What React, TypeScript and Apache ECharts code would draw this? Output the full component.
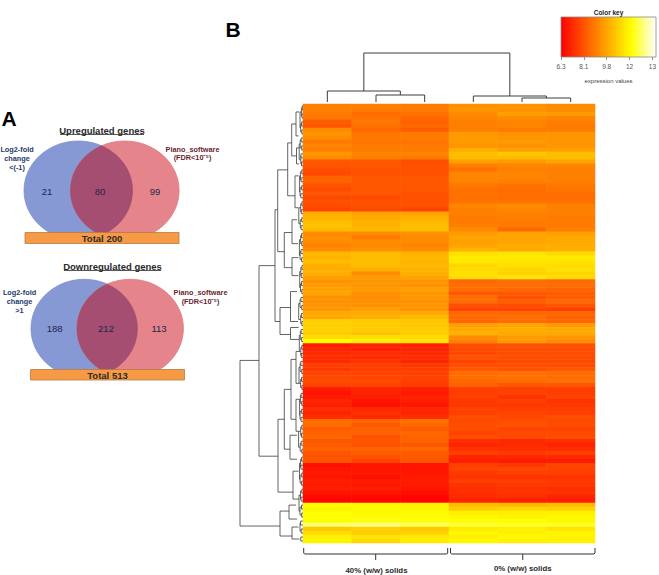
import React, { useEffect, useRef } from "react";
import * as echarts from "echarts";

const sampleColumns = ["40a", "40b", "40c", "0a", "0b", "0c"];
const heatRows = [
  [8.8,8.8,8.7,9.1,9.2,9.0],[8.8,8.7,8.7,9.2,9.1,9.0],[8.7,8.4,8.5,9.0,9.4,9.3],[8.6,8.5,8.3,8.9,9.0,8.9],
  [8.1,8.6,8.2,8.8,8.9,8.8],[8.0,8.5,8.3,8.8,8.9,8.7],[9.0,8.3,8.1,8.8,8.7,8.7],[9.2,8.6,8.7,9.3,9.1,9.2],
  [9.0,8.6,8.7,9.3,9.2,9.2],[8.7,8.6,8.6,9.3,9.3,9.2],[8.9,8.7,8.7,9.2,9.1,9.2],[8.8,8.7,8.7,9.7,9.4,9.4],
  [9.2,8.9,8.9,10.0,10.2,10.0],[9.0,8.8,8.7,10.0,10.0,10.0],[8.0,8.0,7.8,9.4,9.3,9.5],[8.0,8.0,7.9,8.8,8.9,8.9],
  [7.8,7.9,7.9,8.5,8.8,8.8],[7.7,7.9,7.9,8.9,8.9,8.8],[8.2,8.0,8.0,8.9,8.9,8.8],[8.2,8.0,8.0,8.9,8.8,8.8],
  [7.9,8.0,8.0,8.6,8.5,8.6],[7.8,8.0,8.0,8.5,8.4,8.6],[8.0,8.0,7.9,8.5,8.4,8.4],[7.7,7.7,7.9,8.5,8.4,8.4],
  [7.9,7.9,7.9,8.5,8.5,8.5],[7.8,7.9,7.9,8.9,9.0,8.8],[7.6,7.7,7.6,8.8,8.9,8.8],[9.7,9.5,9.5,8.8,8.8,8.8],
  [9.8,9.6,9.7,8.7,8.8,8.7],[10.0,9.8,9.9,8.7,8.7,8.7],[10.1,9.8,10.0,8.8,8.7,8.7],[9.9,9.9,10.0,9.0,8.3,8.8],
  [9.0,9.0,9.1,9.3,9.5,9.4],[9.1,8.7,9.0,9.5,9.5,9.6],[9.0,9.0,9.0,9.4,9.5,9.6],[8.9,9.0,8.9,9.5,9.7,9.7],
  [9.0,9.1,9.0,9.8,9.6,9.7],[9.9,10.0,9.8,10.7,10.8,10.6],[9.8,10.0,9.9,10.9,10.9,10.9],[10.0,10.0,9.8,10.9,10.8,10.8],
  [9.7,10.0,9.9,10.5,10.7,10.6],[9.7,9.7,9.8,10.6,10.5,10.7],[9.7,9.0,9.7,10.7,10.4,10.5],[9.4,9.3,9.5,10.6,10.8,10.6],
  [9.1,9.2,9.2,8.3,8.4,8.3],[9.3,9.2,9.1,8.4,8.4,8.4],[9.4,9.3,9.4,8.4,8.3,8.2],[9.5,9.1,9.2,8.0,8.0,8.1],
  [9.1,9.0,9.2,8.4,7.9,8.1],[9.1,9.1,9.1,8.4,8.1,8.3],[9.2,9.1,9.2,7.9,7.8,8.0],[9.2,9.4,9.1,7.6,7.6,7.5],
  [9.6,9.6,9.6,8.3,8.3,8.3],[9.6,9.7,9.9,8.3,8.4,8.2],[10.4,10.3,10.2,8.3,8.4,8.3],[10.4,10.3,10.2,9.4,9.5,9.3],
  [10.4,10.3,10.3,9.6,9.7,9.6],[10.3,10.1,10.3,9.8,9.6,9.6],[10.6,10.7,10.6,9.0,9.3,9.2],[11.3,11.0,10.8,8.8,9.3,9.0],
  [6.8,7.0,6.9,7.8,7.9,7.9],[7.0,6.9,7.0,7.7,7.8,7.8],[7.1,7.2,7.1,7.7,7.8,7.8],[7.2,7.1,7.2,7.9,7.8,7.8],
  [7.1,7.3,7.0,7.6,7.7,7.7],[7.5,7.5,7.4,7.8,7.8,7.8],[7.4,7.5,7.5,8.0,7.9,8.0],[7.6,7.6,7.5,8.4,8.5,8.4],
  [7.7,7.6,7.6,8.4,8.5,8.4],[7.8,7.7,7.5,8.3,8.4,8.5],[7.6,7.6,7.5,8.2,8.0,8.0],[6.8,7.0,6.9,7.5,7.5,7.5],
  [6.7,7.0,6.8,7.5,7.6,7.5],[6.8,6.9,7.0,7.5,7.3,7.6],[7.0,6.7,6.9,7.4,7.5,7.3],[6.9,6.6,6.7,7.4,7.4,7.4],
  [7.2,7.1,7.1,7.6,7.5,7.5],[7.0,7.2,7.0,7.5,7.6,7.5],[7.2,7.1,7.2,7.8,7.7,7.8],[8.4,8.3,8.5,7.7,7.8,7.7],
  [8.4,8.0,8.3,7.8,7.9,7.8],[8.1,8.2,8.1,7.8,7.6,7.6],[8.2,8.2,8.3,7.6,7.7,7.7],[8.3,7.9,8.2,7.8,7.7,7.8],
  [8.0,8.0,8.2,7.2,7.1,7.2],[8.1,7.9,8.0,7.0,7.1,7.0],[8.2,8.2,8.3,7.3,7.2,7.2],[8.0,8.1,8.1,7.5,7.4,7.5],
  [7.9,7.9,8.0,7.0,7.1,7.1],[8.0,7.6,8.0,6.9,6.8,6.8],[6.6,6.7,6.7,7.5,7.4,7.6],[6.7,6.7,6.7,7.6,7.7,7.6],
  [6.8,6.8,6.7,7.4,7.5,7.5],[6.7,6.6,6.8,7.3,7.3,7.3],[6.9,6.8,6.8,7.5,7.5,7.4],[6.8,6.7,6.8,7.3,7.4,7.4],
  [6.9,6.9,6.7,7.2,7.3,7.2],[6.7,6.7,6.6,7.2,7.3,7.3],[6.5,6.5,6.4,7.1,7.2,7.0],[6.4,6.4,6.4,7.0,6.9,6.9],
  [11.3,11.2,11.1,10.0,9.9,10.0],[11.1,11.2,11.1,10.3,10.5,10.4],[11.3,11.2,11.3,11.0,11.0,11.0],[11.3,11.3,11.3,11.2,11.1,11.2],
  [11.3,11.4,11.4,11.3,11.3,11.2],[12.1,12.2,11.9,11.7,11.6,11.6],[10.2,10.4,10.2,10.9,11.0,10.8],[10.6,10.3,10.4,11.2,11.0,11.1],
  [11.0,10.8,10.9,11.0,11.2,11.1],[11.1,10.5,10.9,11.2,11.0,11.0],
];

// Dendrogram merges: [merge height, first position, first child height, second position, second child height]
const columnMerges = [
  [7, 1.5, 0, 2.5, 0], [11, 0.5, 0, 2, 7], [4, 4.5, 0, 5.5, 0], [6, 3.5, 0, 5, 4], [49, 1.25, 11, 4.25, 6],
];
const rowUpperMerges = [
  [63, 64.25, 44, 105.75, 23], [44, 40.5, 28, 88.25, 25], [28, 26.5, 25.3, 54.5, 23],
  [25.3, 16.5, 15.3, 37, 18.7], [15.3, 9.75, 11.3, 23, 8], [18.7, 32.2, 11, 41, 11],
  [23, 51, 12.5, 57.75, 12.5], [25, 79, 18.7, 97.25, 10], [18.7, 71.5, 12, 86.5, 13],
  [23, 102, 14, 108.25, 11], [11.3, 5, 7, 13, 6.5], [8, 18, 4.5, 26, 4.5], [11, 29, 6, 35, 5],
  [11, 38.5, 4.5, 43, 4.5], [12.5, 47, 6, 54.5, 5], [12.5, 56, 4.5, 59, 4], [12, 64, 7, 79, 7],
  [13, 83, 6, 89, 6], [10, 92, 4.5, 99, 4], [14, 100.5, 7, 104, 6], [11, 106, 4.5, 109, 3.5],
  [7, 2, 3.5, 8, 4.5], [6.5, 11, 3.5, 15, 4], [7, 62, 3.5, 70, 4], [7, 74, 3.5, 82, 4.5],
];
const rowLeafDepths = [
  0.8,1.1,1.4,1.2,1.8,1.3,2.1,1.5,1.2,1.9,1.4,2.2,1.1,1.7,1.3,1.9,1.5,1.2,2.0,1.4,
  1.1,1.8,1.5,1.2,2.1,1.3,1.6,1.2,1.9,1.4,1.1,1.7,2.2,1.3,1.5,1.1,1.9,1.3,1.6,2.0,
  1.2,1.5,1.8,1.1,1.4,2.1,1.3,1.6,1.2,1.9,1.5,1.3,2.4,1.8,2.2,
];
const rowTwigDepths = [
  1.6,2.3,2.8,2.2,2.6,3.0,2.3,2.7,2.4,2.9,2.2,2.5,3.0,2.3,2.7,2.2,
  2.9,2.4,2.6,3.0,2.3,2.8,2.4,2.9,2.5,3.0,3.0,
];
const rowBranchDepths = [3.0, 3.8, 3.4, 4.2, 3.6, 3.3, 4.3, 3.7, 4.0, 3.4, 4.4, 3.5, 4.0];

const upCounts = ["21", "80", "99"];
const downCounts = ["188", "212", "113"];
const upTitle = "Upregulated genes";
const downTitle = "Downregulated genes";
const upTotal = "Total 200";
const downTotal = "Total 513";
const upLeftLabel = ["Log2-fold", "change", "<(-1)"];
const downLeftLabel = ["Log2-fold", "change", ">1"];
const rightLabel = ["Piano_software", "(FDR<10\u207B\u2075)"];
const keyTicks = ["6.3", "8.1", "9.8", "12", "13"];
const groupLabels = ["40% (w/w) solids", "0% (w/w) solids"];

const FONT = '"Liberation Sans", Arial, sans-serif';
const BLUE = "#8799d4";
const RED = "#e5858b";
const LENS = "#a54e72";
const NAVY = "#1f3a6b";
const WINE = "#6a1f2e";

const leafMerges = rowLeafDepths.map((d, i) => [d, 2 * i + 0.5, 0, 2 * i + 1.5, 0]);
const twigMerges = rowTwigDepths.map((d, i) => [d, 4 * i + 1, rowLeafDepths[2 * i], 4 * i + 3, rowLeafDepths[2 * i + 1]]);
const branchMerges = rowBranchDepths.map((d, j) => [d, 8 * j + 2, rowTwigDepths[2 * j], 8 * j + 6, rowTwigDepths[2 * j + 1]]);
const rowMerges = [...leafMerges, ...twigMerges, ...branchMerges, ...rowUpperMerges];

function txt(text: string, x: number, y: number, size: number, color: string, bold = false) {
  return {
    type: "text", x, y, z: 20, silent: true,
    style: { text, fill: color, fontFamily: FONT, fontSize: size, fontWeight: bold ? "bold" : "normal", textAlign: "center", textVerticalAlign: "middle" },
  };
}

function lensPoints(c1: number, c2: number, cy: number, rx: number, ry: number) {
  const half = Math.acos((c2 - c1) / 2 / rx);
  const pts: number[][] = [];
  for (let i = 0; i <= 40; i++) {
    const a = -half + (2 * half * i) / 40;
    pts.push([c1 + rx * Math.cos(a), cy + ry * Math.sin(a)]);
  }
  for (let i = 0; i <= 40; i++) {
    const a = Math.PI - half + (2 * half * i) / 40;
    pts.push([c2 + rx * Math.cos(a), cy + ry * Math.sin(a)]);
  }
  return pts;
}

function venn(c1: number, c2: number, cy: number, rx: number, ry: number, counts: string[], countXs: number[], countY: number,
  barX: number, barY: number, barW: number, barH: number, total: string) {
  return [
    { type: "ellipse", z: 10, silent: true, shape: { cx: c1, cy, rx, ry }, style: { fill: BLUE, stroke: "#7d8fcb", lineWidth: 0.8 } },
    { type: "ellipse", z: 10, silent: true, shape: { cx: c2, cy, rx, ry }, style: { fill: RED, stroke: "#d97b82", lineWidth: 0.8 } },
    { type: "polygon", z: 11, silent: true, shape: { points: lensPoints(c1, c2, cy, rx, ry) }, style: { fill: LENS, stroke: "#98476a", lineWidth: 0.5 } },
    { type: "rect", z: 13, silent: true, shape: { x: barX, y: barY, width: barW, height: barH }, style: { fill: "#f79a45", stroke: "#b87a3c", lineWidth: 0.8 } },
    txt(total, barX + barW / 2, barY + barH / 2 + 0.5, 9.5, "#2a2a2a", true),
    ...counts.map((c, i) => txt(c, countXs[i], countY, 9.5, "#20264a")),
  ];
}

function bracket(x1: number, x2: number, y1: number, y2: number, tickY: number) {
  const mid = (x1 + x2) / 2;
  const line = { stroke: "#333", lineWidth: 1, fill: "none" };
  return [
    { type: "polyline", z: 10, silent: true, shape: { points: [[x1, y1], [x1, y2 - 1], [x1 + 1, y2], [x2 - 1, y2], [x2, y2 - 1], [x2, y1]] }, style: line },
    { type: "line", z: 10, silent: true, shape: { x1: mid, y1: y2, x2: mid, y2: tickY }, style: line },
  ];
}

function dendroSeries(data: number[][], idx: number, horizontal: boolean, width: number) {
  return {
    type: "custom", xAxisIndex: idx, yAxisIndex: idx, silent: true, clip: false,
    data,
    encode: horizontal ? { x: 0, y: 1 } : { x: 1, y: 0 },
    renderItem: (_: any, api: any) => {
      const h = api.value(0), p1 = api.value(1), h1 = api.value(2), p2 = api.value(3), h2 = api.value(4);
      const c = (height: number, pos: number) => api.coord(horizontal ? [height, pos] : [pos, height]);
      return {
        type: "polyline",
        shape: { points: [c(h1, p1), c(h, p1), c(h, p2), c(h2, p2)] },
        style: { stroke: "#3c3c3c", lineWidth: width, fill: "none" },
      };
    },
  };
}

export default function App() {
  const ref = useRef<HTMLDivElement>(null);
  useEffect(() => {
    const chart = echarts.init(ref.current!, undefined, { renderer: "svg" });
    const heatData: number[][] = [];
    heatRows.forEach((row, r) => row.forEach((v, c) => heatData.push([c, r, v])));
    const hidden = { show: false };
    chart.setOption({
      animation: false,
      backgroundColor: "#ffffff",
      tooltip: { show: false },
      grid: [
        { left: 303, top: 104, width: 292, height: 439 },
        { left: 303, top: 52, width: 292, height: 50 },
        { left: 238, top: 104, width: 65, height: 439 },
        { left: 561, top: 17, width: 95, height: 40 },
      ],
      xAxis: [
        { type: "category", gridIndex: 0, data: sampleColumns, ...hidden },
        { type: "value", gridIndex: 1, min: 0, max: 6, ...hidden },
        { type: "value", gridIndex: 2, min: 0, max: 65, inverse: true, ...hidden },
        {
          type: "value", gridIndex: 3, min: 0, max: 4, interval: 1,
          axisLine: { show: false }, splitLine: { show: false },
          axisTick: { show: true, length: 3, lineStyle: { color: "#666", width: 0.7 } },
          axisLabel: { fontSize: 6.5, color: "#555", margin: 6, fontFamily: FONT, formatter: (v: number) => keyTicks[v], showMinLabel: true, showMaxLabel: true, hideOverlap: false },
        },
      ],
      yAxis: [
        { type: "category", gridIndex: 0, inverse: true, data: heatRows.map((_, i) => String(i)), ...hidden },
        { type: "value", gridIndex: 1, min: 0, max: 50, ...hidden },
        { type: "value", gridIndex: 2, min: 0, max: 110, inverse: true, ...hidden },
        { type: "value", gridIndex: 3, min: 0, max: 1, ...hidden },
      ],
      visualMap: {
        show: false, seriesIndex: 0, min: 6.3, max: 13, dimension: 2,
        inRange: { color: ["#ff0000", "#ff5600", "#ffac00", "#ffff00", "#ffffff"] },
      },
      series: [
        { type: "heatmap", xAxisIndex: 0, yAxisIndex: 0, silent: true, data: heatData, itemStyle: { borderWidth: 0 }, progressive: 0 },
        dendroSeries(columnMerges, 1, false, 1),
        dendroSeries(rowMerges, 2, true, 0.8),
      ],
      graphic: {
        elements: [
          ...venn(78.3, 124.8, 190.5, 54.3, 49.5, upCounts, [47, 100, 155], 191, 25, 232.5, 154, 11, upTotal),
          ...venn(84.2, 130.2, 328.5, 53.2, 49.2, downCounts, [54.7, 106, 159], 328, 30.5, 369.5, 154, 10.5, downTotal),
          txt("A", 9, 118, 21, "#000", true),
          txt("B", 233, 29, 21, "#000", true),
          txt(upTitle, 102, 130, 9.5, "#2a2a2a", true),
          { type: "line", z: 20, silent: true, shape: { x1: 60, y1: 134.5, x2: 144, y2: 134.5 }, style: { stroke: "#2a2a2a", lineWidth: 0.8 } },
          txt(downTitle, 112.5, 266, 9.5, "#2a2a2a", true),
          { type: "line", z: 20, silent: true, shape: { x1: 64, y1: 270.5, x2: 161, y2: 270.5 }, style: { stroke: "#2a2a2a", lineWidth: 0.8 } },
          ...upLeftLabel.map((t, i) => txt(t, 17, 149.3 + 8.9 * i, 7.3, NAVY, true)),
          ...downLeftLabel.map((t, i) => txt(t, 19.5, 292.7 + 8.9 * i, 7.3, NAVY, true)),
          ...rightLabel.map((t, i) => txt(t, 192.5, 149 + 8.8 * i, 7.3, WINE, true)),
          ...rightLabel.map((t, i) => txt(t, 200.5, 292.7 + 9 * i, 7.3, WINE, true)),
          {
            type: "rect", z: 5, silent: true, shape: { x: 561, y: 17, width: 95, height: 40 },
            style: {
              fill: new echarts.graphic.LinearGradient(0, 0, 1, 0, [
                { offset: 0, color: "#ff0000" }, { offset: 0.74, color: "#ffff00" }, { offset: 1, color: "#ffffff" },
              ]),
              stroke: "#888", lineWidth: 0.8,
            },
          },
          txt("Color key", 608.5, 12.5, 6.5, "#222", true),
          txt("expression values", 608.5, 81, 6, "#444"),
          ...bracket(303.7, 447.7, 548, 554, 560),
          ...bracket(450.5, 595, 548, 554, 560),
          txt(groupLabels[0], 376.5, 570, 7.8, "#2a2a2a", true),
          txt(groupLabels[1], 522.7, 568.5, 7.8, "#2a2a2a", true),
        ],
      },
    });
    return () => chart.dispose();
  }, []);
  return <div ref={ref} style={{ position: "absolute", left: 0, top: 0, width: 659, height: 575 }} />;
}
